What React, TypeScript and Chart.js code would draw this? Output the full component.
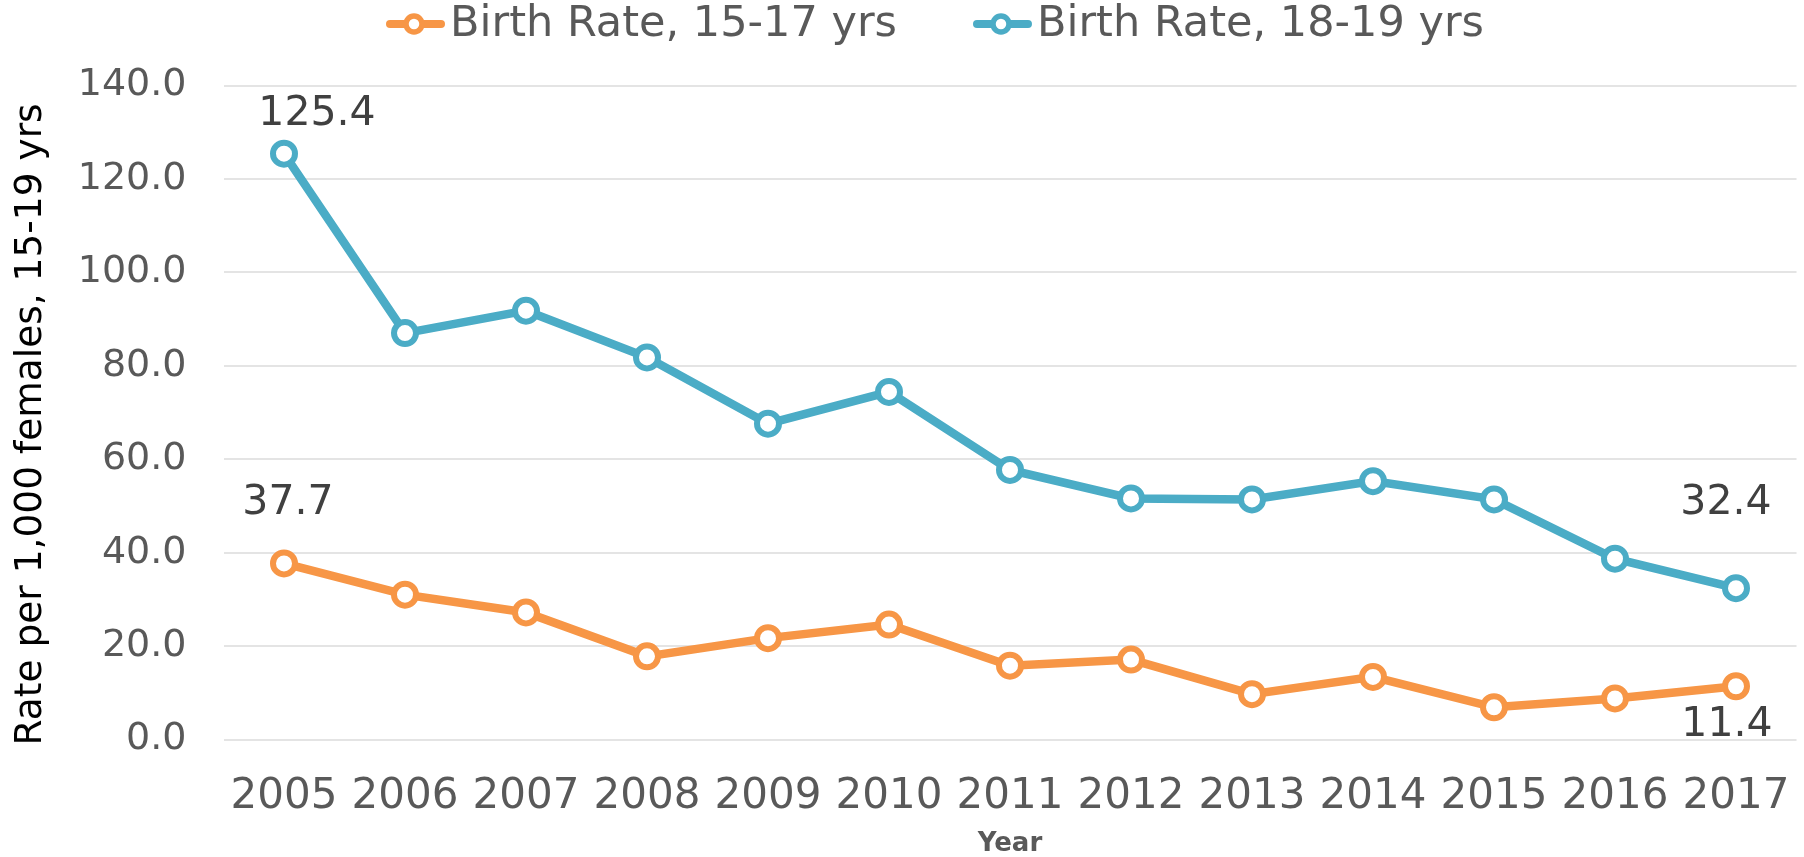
import React, { useEffect, useRef } from 'react';
import { Chart, registerables } from 'chart.js';

Chart.register(...registerables);

const years = ['2005', '2006', '2007', '2008', '2009', '2010', '2011', '2012', '2013', '2014', '2015', '2016', '2017'];
const rate15to17 = [37.7, 31.0, 27.2, 17.8, 21.7, 24.6, 15.8, 17.1, 9.7, 13.4, 6.9, 8.8, 11.4];
const rate18to19 = [125.4, 87.0, 91.8, 81.8, 67.6, 74.4, 57.7, 51.6, 51.4, 55.3, 51.4, 38.7, 32.4];
const seriesLabels = ['Birth Rate, 15-17 yrs', 'Birth Rate, 18-19 yrs'];
const seriesColors = ['#F79646', '#4BACC6'];
const yTickValues = [0, 20, 40, 60, 80, 100, 120, 140];
const yAxisTitle = 'Rate per 1,000 females, 15-19 yrs';
const xAxisTitle = 'Year';

// which points carry a value label: [datasetIndex, pointIndex, dx, dy]
const labelledPoints: [number, number, number, number][] = [
  [0, 0, 4, -60],
  [0, 12, -9, 39],
  [1, 0, 33, -39],
  [1, 12, -10, -85],
];

const FONT = "'DejaVu Sans', Verdana, sans-serif";

const legendPlugin = {
  id: 'customLegend',
  afterDraw(chart: any) {
    const ctx = chart.ctx as CanvasRenderingContext2D;
    ctx.save();
    ctx.font = `43px ${FONT}`;
    ctx.textBaseline = 'middle';
    ctx.textAlign = 'left';
    const y = 24;
    let x = 386;
    chart.data.datasets.forEach((ds: any) => {
      ctx.strokeStyle = ds.borderColor;
      ctx.lineWidth = 8;
      ctx.lineCap = 'round';
      ctx.beginPath();
      ctx.moveTo(x + 4, y);
      ctx.lineTo(x + 55, y);
      ctx.stroke();
      ctx.beginPath();
      ctx.arc(x + 28, y, 8, 0, Math.PI * 2);
      ctx.fillStyle = '#ffffff';
      ctx.fill();
      ctx.lineWidth = 5.5;
      ctx.stroke();
      ctx.fillStyle = '#595959';
      ctx.fillText(ds.label, x + 64, y + 1);
      const w = ctx.measureText(ds.label).width;
      x = x + 64 + w + 76;
    });
    ctx.restore();
  },
};

const valueLabelPlugin = {
  id: 'valueLabels',
  afterDatasetsDraw(chart: any) {
    const ctx = chart.ctx as CanvasRenderingContext2D;
    ctx.save();
    ctx.font = `41px ${FONT}`;
    ctx.fillStyle = '#404040';
    ctx.textAlign = 'center';
    ctx.textBaseline = 'middle';
    labelledPoints.forEach(([d, i, dx, dy]) => {
      const meta = chart.getDatasetMeta(d);
      const el = meta.data[i];
      const v = chart.data.datasets[d].data[i] as number;
      ctx.fillText(v.toFixed(1), el.x + dx, el.y + dy);
    });
    ctx.restore();
  },
};

export default function App() {
  const ref = useRef<HTMLCanvasElement>(null);

  useEffect(() => {
    document.body.style.margin = '0';
    const canvas = ref.current!;
    const mkDataset = (label: string, data: number[], color: string) => ({
      label,
      data,
      borderColor: color,
      backgroundColor: color,
      borderWidth: 8.5,
      pointRadius: 11,
      pointHoverRadius: 11,
      pointBorderWidth: 6,
      pointBackgroundColor: '#ffffff',
      pointBorderColor: color,
      tension: 0,
    });
    const chart = new Chart(canvas, {
      type: 'line',
      data: {
        labels: years,
        datasets: [
          mkDataset(seriesLabels[0], rate15to17, seriesColors[0]),
          mkDataset(seriesLabels[1], rate18to19, seriesColors[1]),
        ],
      },
      options: {
        animation: false,
        responsive: false,
        devicePixelRatio: 1,
        layout: { autoPadding: false, padding: { top: 85.5, left: 7.5, right: 7.5, bottom: 0 } },
        plugins: {
          legend: { display: false },
          tooltip: { enabled: false },
        },
        scales: {
          x: {
            type: 'category',
            offset: true,
            grid: { display: false, drawTicks: false },
            border: { display: false },
            ticks: {
              font: { family: FONT, size: 42, lineHeight: 2.73 },
              color: '#595959',
              padding: 0,
              maxRotation: 0,
              autoSkip: false,
            },
            title: {
              display: true,
              text: xAxisTitle,
              font: { family: FONT, size: 26, weight: 'bold', lineHeight: 1 },
              color: '#595959',
              padding: { top: 0, bottom: 0 },
            },
            afterFit(scale: any) {
              scale.height = 117.5;
              scale.paddingLeft = 0;
              scale.paddingRight = 0;
            },
          },
          y: {
            min: 0,
            max: 140,
            afterBuildTicks(scale: any) {
              scale.ticks = yTickValues.map((v) => ({ value: v }));
            },
            ticks: {
              font: { family: FONT, size: 38 },
              color: '#595959',
              padding: 37,
              callback: (v: any) => Number(v).toFixed(1),
            },
            grid: { color: '#e4e4e4', lineWidth: 2, drawTicks: false },
            border: { display: false },
            title: {
              display: true,
              text: yAxisTitle + '  ',
              font: { family: FONT, size: 37.5, lineHeight: 1 },
              color: '#000000',
              padding: { top: 5.5, bottom: 0 },
            },
            afterFit(scale: any) {
              scale.width = 216;
            },
          },
        },
      },
      plugins: [legendPlugin, valueLabelPlugin],
    });
    return () => chart.destroy();
  }, []);

  return <canvas ref={ref} width={1804} height={857} style={{ display: 'block' }} />;
}
